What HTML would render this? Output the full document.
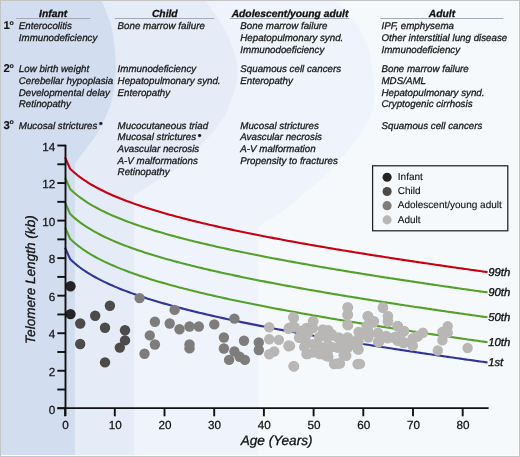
<!DOCTYPE html>
<html><head><meta charset="utf-8"><style>
html,body{margin:0;padding:0;background:#fff;}
svg{display:block;}
text{font-family:"Liberation Sans",sans-serif;text-rendering:geometricPrecision;}
svg{will-change:transform;}
</style></head><body>
<svg width="520" height="457" viewBox="0 0 520 457">
<rect x="0" y="0" width="520" height="457" fill="#f5f9fc"/>
<path d="M0,0 L333,0 C336.5,3.5 348.5,14.0 354.0,21.0 C359.5,28.0 363.1,35.0 366.0,42.0 C368.9,49.0 370.2,56.0 371.5,63.0 C372.8,70.0 373.6,77.8 374.0,84.0 C374.4,90.2 374.5,94.8 374.0,100.0 C373.5,105.2 372.2,111.0 371.0,115.0 C369.8,119.0 368.5,120.5 366.5,124.0 C364.5,127.5 361.9,131.8 359.0,136.0 C356.1,140.2 352.7,144.5 349.0,149.0 C345.3,153.5 341.2,158.3 337.0,163.0 C332.8,167.7 328.5,172.7 324.0,177.0 C319.5,181.3 314.0,185.7 310.0,189.0 C306.0,192.3 303.7,193.9 300.0,197.0 C296.3,200.1 294.9,202.5 288.0,207.5 C281.1,212.5 263.2,223.8 258.3,227.0 L258.3,457 L0,457 Z" fill="#eff4fc"/>
<path d="M0,0 L204.5,0 C206.7,2.9 213.8,11.7 217.6,17.5 C221.4,23.3 224.5,29.2 227.3,35.0 C230.1,40.8 232.6,46.7 234.3,52.5 C236.1,58.3 237.4,64.9 237.8,70.0 C238.2,75.1 237.6,78.3 236.6,83.0 C235.6,87.7 233.8,92.8 232.0,98.0 C230.2,103.2 228.1,109.2 225.6,114.0 C223.1,118.8 220.3,122.7 217.0,127.0 C213.7,131.3 210.0,135.7 206.0,140.0 C202.0,144.3 197.3,148.7 193.0,153.0 C188.7,157.3 186.0,161.4 180.0,166.0 C174.0,170.6 164.6,175.8 157.0,180.7 C149.4,185.6 138.0,192.9 134.2,195.3 L134.2,457 L0,457 Z" fill="#e5ecf8"/>
<path d="M0,0 L101.5,0 C102.4,2.2 105.1,8.7 106.7,13.0 C108.3,17.3 110.1,21.5 111.3,26.0 C112.5,30.5 113.0,35.2 113.7,40.0 C114.4,44.8 115.0,50.0 115.3,55.0 C115.6,60.0 115.8,64.8 115.7,70.0 C115.6,75.2 115.2,80.8 114.5,86.0 C113.8,91.2 112.5,97.0 111.5,101.0 C110.5,105.0 109.7,106.8 108.5,110.0 C107.3,113.2 105.6,116.8 104.1,120.0 C102.5,123.2 101.0,126.3 99.2,129.5 C97.4,132.7 95.2,136.7 93.3,139.4 C91.4,142.2 89.9,143.6 88.0,146.0 C86.1,148.4 84.2,151.0 82.0,154.0 C79.8,157.0 76.0,162.3 74.8,164.0 L74.8,457 L0,457 Z" fill="#d3ddf0"/>
<line x1="15.9" y1="18.5" x2="90.5" y2="18.5" stroke="#a3aab8" stroke-width="1"/>
<line x1="114.6" y1="18.5" x2="214.3" y2="18.5" stroke="#a3aab8" stroke-width="1"/>
<line x1="229.8" y1="18.5" x2="349.4" y2="18.5" stroke="#a3aab8" stroke-width="1"/>
<line x1="380.3" y1="18.5" x2="503.3" y2="18.5" stroke="#a3aab8" stroke-width="1"/>
<path d="M65.10,157.39 L70.07,168.66 L72.55,171.00 L75.04,173.18 L77.52,175.22 L80.01,177.12 L82.49,178.92 L84.98,180.62 L87.46,182.24 L89.95,183.78 L92.43,185.24 L94.92,186.65 L97.41,188.00 L99.89,189.30 L102.38,190.55 L104.86,191.77 L107.34,192.94 L109.83,194.07 L112.31,195.17 L114.80,196.24 L117.28,197.28 L119.77,198.29 L122.25,199.28 L124.74,200.24 L127.22,201.18 L129.71,202.10 L132.19,203.00 L134.68,203.88 L137.16,204.74 L139.65,205.58 L142.13,206.41 L144.62,207.23 L147.10,208.02 L149.59,208.81 L152.07,209.58 L154.56,210.34 L157.04,211.09 L159.53,211.82 L162.01,212.55 L164.50,213.26 L166.98,213.96 L169.47,214.66 L171.95,215.34 L174.44,216.01 L176.92,216.68 L179.41,217.34 L181.89,217.99 L184.38,218.63 L186.87,219.26 L189.35,219.89 L191.83,220.51 L194.32,221.12 L196.80,221.73 L199.29,222.33 L201.77,222.93 L204.26,223.51 L206.74,224.10 L209.23,224.67 L211.71,225.24 L214.20,225.81 L216.68,226.37 L219.17,226.93 L221.65,227.48 L224.14,228.02 L226.62,228.57 L229.11,229.10 L231.59,229.64 L234.08,230.16 L236.56,230.69 L239.05,231.21 L241.53,231.73 L244.02,232.24 L246.50,232.75 L248.99,233.25 L251.47,233.76 L253.96,234.25 L256.44,234.75 L258.93,235.24 L261.41,235.73 L263.90,236.21 L266.38,236.70 L268.87,237.18 L271.36,237.65 L273.84,238.13 L276.32,238.60 L278.81,239.06 L281.29,239.53 L283.78,239.99 L286.26,240.45 L288.75,240.91 L291.24,241.36 L293.72,241.82 L296.20,242.27 L298.69,242.71 L301.17,243.16 L303.66,243.60 L306.14,244.04 L308.63,244.48 L311.12,244.92 L313.60,245.35 L316.08,245.78 L318.57,246.22 L321.05,246.64 L323.54,247.07 L326.02,247.49 L328.51,247.92 L331.00,248.34 L333.48,248.76 L335.97,249.17 L338.45,249.59 L340.93,250.00 L343.42,250.42 L345.90,250.83 L348.39,251.23 L350.88,251.64 L353.36,252.05 L355.85,252.45 L358.33,252.85 L360.81,253.25 L363.30,253.65 L365.78,254.05 L368.27,254.45 L370.75,254.84 L373.24,255.24 L375.73,255.63 L378.21,256.02 L380.69,256.41 L383.18,256.80 L385.66,257.19 L388.15,257.57 L390.63,257.96 L393.12,258.34 L395.61,258.72 L398.09,259.10 L400.57,259.48 L403.06,259.86 L405.54,260.24 L408.03,260.61 L410.51,260.99 L413.00,261.36 L415.49,261.73 L417.97,262.11 L420.45,262.48 L422.94,262.85 L425.42,263.22 L427.91,263.58 L430.39,263.95 L432.88,264.31 L435.37,264.68 L437.85,265.04 L440.33,265.41 L442.82,265.77 L445.30,266.13 L447.79,266.49 L450.27,266.85 L452.76,267.20 L455.25,267.56 L457.73,267.92 L460.21,268.27 L462.70,268.63 L465.18,268.98 L467.67,269.33 L470.15,269.68 L472.64,270.04 L475.12,270.39 L477.61,270.74 L480.10,271.08 L482.58,271.43 L485.06,271.78 L487.55,272.13" fill="none" stroke="#c8000f" stroke-width="2.1" stroke-linejoin="round"/>
<path d="M65.10,177.68 L70.07,188.95 L72.55,191.28 L75.04,193.47 L77.52,195.51 L80.01,197.41 L82.49,199.21 L84.98,200.91 L87.46,202.53 L89.95,204.06 L92.43,205.53 L94.92,206.94 L97.41,208.29 L99.89,209.59 L102.38,210.84 L104.86,212.05 L107.34,213.23 L109.83,214.36 L112.31,215.46 L114.80,216.53 L117.28,217.57 L119.77,218.58 L122.25,219.57 L124.74,220.53 L127.22,221.47 L129.71,222.39 L132.19,223.29 L134.68,224.17 L137.16,225.03 L139.65,225.87 L142.13,226.70 L144.62,227.52 L147.10,228.31 L149.59,229.10 L152.07,229.87 L154.56,230.63 L157.04,231.38 L159.53,232.11 L162.01,232.84 L164.50,233.55 L166.98,234.25 L169.47,234.95 L171.95,235.63 L174.44,236.30 L176.92,236.97 L179.41,237.63 L181.89,238.28 L184.38,238.92 L186.87,239.55 L189.35,240.18 L191.83,240.80 L194.32,241.41 L196.80,242.02 L199.29,242.62 L201.77,243.22 L204.26,243.80 L206.74,244.39 L209.23,244.96 L211.71,245.53 L214.20,246.10 L216.68,246.66 L219.17,247.22 L221.65,247.77 L224.14,248.31 L226.62,248.86 L229.11,249.39 L231.59,249.93 L234.08,250.45 L236.56,250.98 L239.05,251.50 L241.53,252.02 L244.02,252.53 L246.50,253.04 L248.99,253.54 L251.47,254.04 L253.96,254.54 L256.44,255.04 L258.93,255.53 L261.41,256.02 L263.90,256.50 L266.38,256.99 L268.87,257.47 L271.36,257.94 L273.84,258.41 L276.32,258.89 L278.81,259.35 L281.29,259.82 L283.78,260.28 L286.26,260.74 L288.75,261.20 L291.24,261.65 L293.72,262.11 L296.20,262.56 L298.69,263.00 L301.17,263.45 L303.66,263.89 L306.14,264.33 L308.63,264.77 L311.12,265.21 L313.60,265.64 L316.08,266.07 L318.57,266.50 L321.05,266.93 L323.54,267.36 L326.02,267.78 L328.51,268.21 L331.00,268.63 L333.48,269.05 L335.97,269.46 L338.45,269.88 L340.93,270.29 L343.42,270.70 L345.90,271.12 L348.39,271.52 L350.88,271.93 L353.36,272.34 L355.85,272.74 L358.33,273.14 L360.81,273.54 L363.30,273.94 L365.78,274.34 L368.27,274.74 L370.75,275.13 L373.24,275.53 L375.73,275.92 L378.21,276.31 L380.69,276.70 L383.18,277.09 L385.66,277.48 L388.15,277.86 L390.63,278.25 L393.12,278.63 L395.61,279.01 L398.09,279.39 L400.57,279.77 L403.06,280.15 L405.54,280.53 L408.03,280.90 L410.51,281.28 L413.00,281.65 L415.49,282.02 L417.97,282.40 L420.45,282.77 L422.94,283.14 L425.42,283.50 L427.91,283.87 L430.39,284.24 L432.88,284.60 L435.37,284.97 L437.85,285.33 L440.33,285.69 L442.82,286.06 L445.30,286.42 L447.79,286.78 L450.27,287.14 L452.76,287.49 L455.25,287.85 L457.73,288.21 L460.21,288.56 L462.70,288.92 L465.18,289.27 L467.67,289.62 L470.15,289.97 L472.64,290.33 L475.12,290.68 L477.61,291.02 L480.10,291.37 L482.58,291.72 L485.06,292.07 L487.55,292.41" fill="none" stroke="#53a12a" stroke-width="2.1" stroke-linejoin="round"/>
<path d="M65.10,202.58 L70.07,213.84 L72.55,216.18 L75.04,218.37 L77.52,220.40 L80.01,222.31 L82.49,224.11 L84.98,225.81 L87.46,227.42 L89.95,228.96 L92.43,230.43 L94.92,231.84 L97.41,233.19 L99.89,234.49 L102.38,235.74 L104.86,236.95 L107.34,238.12 L109.83,239.26 L112.31,240.36 L114.80,241.43 L117.28,242.47 L119.77,243.48 L122.25,244.46 L124.74,245.43 L127.22,246.37 L129.71,247.29 L132.19,248.19 L134.68,249.06 L137.16,249.93 L139.65,250.77 L142.13,251.60 L144.62,252.41 L147.10,253.21 L149.59,254.00 L152.07,254.77 L154.56,255.53 L157.04,256.27 L159.53,257.01 L162.01,257.73 L164.50,258.45 L166.98,259.15 L169.47,259.84 L171.95,260.53 L174.44,261.20 L176.92,261.87 L179.41,262.53 L181.89,263.18 L184.38,263.82 L186.87,264.45 L189.35,265.08 L191.83,265.70 L194.32,266.31 L196.80,266.92 L199.29,267.52 L201.77,268.11 L204.26,268.70 L206.74,269.28 L209.23,269.86 L211.71,270.43 L214.20,271.00 L216.68,271.56 L219.17,272.11 L221.65,272.66 L224.14,273.21 L226.62,273.75 L229.11,274.29 L231.59,274.82 L234.08,275.35 L236.56,275.88 L239.05,276.40 L241.53,276.91 L244.02,277.43 L246.50,277.94 L248.99,278.44 L251.47,278.94 L253.96,279.44 L256.44,279.94 L258.93,280.43 L261.41,280.92 L263.90,281.40 L266.38,281.88 L268.87,282.36 L271.36,282.84 L273.84,283.31 L276.32,283.78 L278.81,284.25 L281.29,284.72 L283.78,285.18 L286.26,285.64 L288.75,286.10 L291.24,286.55 L293.72,287.00 L296.20,287.45 L298.69,287.90 L301.17,288.35 L303.66,288.79 L306.14,289.23 L308.63,289.67 L311.12,290.10 L313.60,290.54 L316.08,290.97 L318.57,291.40 L321.05,291.83 L323.54,292.26 L326.02,292.68 L328.51,293.10 L331.00,293.53 L333.48,293.94 L335.97,294.36 L338.45,294.78 L340.93,295.19 L343.42,295.60 L345.90,296.01 L348.39,296.42 L350.88,296.83 L353.36,297.23 L355.85,297.64 L358.33,298.04 L360.81,298.44 L363.30,298.84 L365.78,299.24 L368.27,299.64 L370.75,300.03 L373.24,300.42 L375.73,300.82 L378.21,301.21 L380.69,301.60 L383.18,301.99 L385.66,302.37 L388.15,302.76 L390.63,303.14 L393.12,303.53 L395.61,303.91 L398.09,304.29 L400.57,304.67 L403.06,305.05 L405.54,305.42 L408.03,305.80 L410.51,306.18 L413.00,306.55 L415.49,306.92 L417.97,307.29 L420.45,307.66 L422.94,308.03 L425.42,308.40 L427.91,308.77 L430.39,309.14 L432.88,309.50 L435.37,309.87 L437.85,310.23 L440.33,310.59 L442.82,310.95 L445.30,311.31 L447.79,311.67 L450.27,312.03 L452.76,312.39 L455.25,312.75 L457.73,313.10 L460.21,313.46 L462.70,313.81 L465.18,314.17 L467.67,314.52 L470.15,314.87 L472.64,315.22 L475.12,315.57 L477.61,315.92 L480.10,316.27 L482.58,316.62 L485.06,316.97 L487.55,317.31" fill="none" stroke="#53a12a" stroke-width="2.1" stroke-linejoin="round"/>
<path d="M65.10,227.48 L70.07,238.74 L72.55,241.08 L75.04,243.26 L77.52,245.30 L80.01,247.21 L82.49,249.01 L84.98,250.71 L87.46,252.32 L89.95,253.86 L92.43,255.33 L94.92,256.74 L97.41,258.09 L99.89,259.39 L102.38,260.64 L104.86,261.85 L107.34,263.02 L109.83,264.15 L112.31,265.26 L114.80,266.32 L117.28,267.36 L119.77,268.38 L122.25,269.36 L124.74,270.33 L127.22,271.27 L129.71,272.18 L132.19,273.08 L134.68,273.96 L137.16,274.82 L139.65,275.67 L142.13,276.50 L144.62,277.31 L147.10,278.11 L149.59,278.89 L152.07,279.67 L154.56,280.42 L157.04,281.17 L159.53,281.91 L162.01,282.63 L164.50,283.34 L166.98,284.05 L169.47,284.74 L171.95,285.42 L174.44,286.10 L176.92,286.77 L179.41,287.42 L181.89,288.07 L184.38,288.71 L186.87,289.35 L189.35,289.98 L191.83,290.60 L194.32,291.21 L196.80,291.82 L199.29,292.42 L201.77,293.01 L204.26,293.60 L206.74,294.18 L209.23,294.76 L211.71,295.33 L214.20,295.89 L216.68,296.46 L219.17,297.01 L221.65,297.56 L224.14,298.11 L226.62,298.65 L229.11,299.19 L231.59,299.72 L234.08,300.25 L236.56,300.77 L239.05,301.29 L241.53,301.81 L244.02,302.32 L246.50,302.83 L248.99,303.34 L251.47,303.84 L253.96,304.34 L256.44,304.83 L258.93,305.33 L261.41,305.81 L263.90,306.30 L266.38,306.78 L268.87,307.26 L271.36,307.74 L273.84,308.21 L276.32,308.68 L278.81,309.15 L281.29,309.61 L283.78,310.08 L286.26,310.54 L288.75,310.99 L291.24,311.45 L293.72,311.90 L296.20,312.35 L298.69,312.80 L301.17,313.24 L303.66,313.69 L306.14,314.13 L308.63,314.57 L311.12,315.00 L313.60,315.44 L316.08,315.87 L318.57,316.30 L321.05,316.73 L323.54,317.15 L326.02,317.58 L328.51,318.00 L331.00,318.42 L333.48,318.84 L335.97,319.26 L338.45,319.67 L340.93,320.09 L343.42,320.50 L345.90,320.91 L348.39,321.32 L350.88,321.73 L353.36,322.13 L355.85,322.54 L358.33,322.94 L360.81,323.34 L363.30,323.74 L365.78,324.14 L368.27,324.53 L370.75,324.93 L373.24,325.32 L375.73,325.71 L378.21,326.11 L380.69,326.50 L383.18,326.88 L385.66,327.27 L388.15,327.66 L390.63,328.04 L393.12,328.42 L395.61,328.81 L398.09,329.19 L400.57,329.57 L403.06,329.94 L405.54,330.32 L408.03,330.70 L410.51,331.07 L413.00,331.45 L415.49,331.82 L417.97,332.19 L420.45,332.56 L422.94,332.93 L425.42,333.30 L427.91,333.67 L430.39,334.03 L432.88,334.40 L435.37,334.76 L437.85,335.13 L440.33,335.49 L442.82,335.85 L445.30,336.21 L447.79,336.57 L450.27,336.93 L452.76,337.29 L455.25,337.65 L457.73,338.00 L460.21,338.36 L462.70,338.71 L465.18,339.06 L467.67,339.42 L470.15,339.77 L472.64,340.12 L475.12,340.47 L477.61,340.82 L480.10,341.17 L482.58,341.52 L485.06,341.86 L487.55,342.21" fill="none" stroke="#53a12a" stroke-width="2.1" stroke-linejoin="round"/>
<path d="M65.10,247.77 L70.07,259.03 L72.55,261.37 L75.04,263.55 L77.52,265.59 L80.01,267.50 L82.49,269.30 L84.98,271.00 L87.46,272.61 L89.95,274.15 L92.43,275.62 L94.92,277.03 L97.41,278.38 L99.89,279.68 L102.38,280.93 L104.86,282.14 L107.34,283.31 L109.83,284.44 L112.31,285.54 L114.80,286.61 L117.28,287.65 L119.77,288.67 L122.25,289.65 L124.74,290.61 L127.22,291.55 L129.71,292.47 L132.19,293.37 L134.68,294.25 L137.16,295.11 L139.65,295.96 L142.13,296.79 L144.62,297.60 L147.10,298.40 L149.59,299.18 L152.07,299.96 L154.56,300.71 L157.04,301.46 L159.53,302.20 L162.01,302.92 L164.50,303.63 L166.98,304.34 L169.47,305.03 L171.95,305.71 L174.44,306.39 L176.92,307.05 L179.41,307.71 L181.89,308.36 L184.38,309.00 L186.87,309.64 L189.35,310.27 L191.83,310.89 L194.32,311.50 L196.80,312.11 L199.29,312.71 L201.77,313.30 L204.26,313.89 L206.74,314.47 L209.23,315.05 L211.71,315.62 L214.20,316.18 L216.68,316.75 L219.17,317.30 L221.65,317.85 L224.14,318.40 L226.62,318.94 L229.11,319.48 L231.59,320.01 L234.08,320.54 L236.56,321.06 L239.05,321.58 L241.53,322.10 L244.02,322.61 L246.50,323.12 L248.99,323.63 L251.47,324.13 L253.96,324.63 L256.44,325.12 L258.93,325.61 L261.41,326.10 L263.90,326.59 L266.38,327.07 L268.87,327.55 L271.36,328.03 L273.84,328.50 L276.32,328.97 L278.81,329.44 L281.29,329.90 L283.78,330.37 L286.26,330.83 L288.75,331.28 L291.24,331.74 L293.72,332.19 L296.20,332.64 L298.69,333.09 L301.17,333.53 L303.66,333.98 L306.14,334.42 L308.63,334.86 L311.12,335.29 L313.60,335.73 L316.08,336.16 L318.57,336.59 L321.05,337.02 L323.54,337.44 L326.02,337.87 L328.51,338.29 L331.00,338.71 L333.48,339.13 L335.97,339.55 L338.45,339.96 L340.93,340.38 L343.42,340.79 L345.90,341.20 L348.39,341.61 L350.88,342.02 L353.36,342.42 L355.85,342.83 L358.33,343.23 L360.81,343.63 L363.30,344.03 L365.78,344.43 L368.27,344.82 L370.75,345.22 L373.24,345.61 L375.73,346.00 L378.21,346.39 L380.69,346.78 L383.18,347.17 L385.66,347.56 L388.15,347.95 L390.63,348.33 L393.12,348.71 L395.61,349.10 L398.09,349.48 L400.57,349.86 L403.06,350.23 L405.54,350.61 L408.03,350.99 L410.51,351.36 L413.00,351.74 L415.49,352.11 L417.97,352.48 L420.45,352.85 L422.94,353.22 L425.42,353.59 L427.91,353.96 L430.39,354.32 L432.88,354.69 L435.37,355.05 L437.85,355.42 L440.33,355.78 L442.82,356.14 L445.30,356.50 L447.79,356.86 L450.27,357.22 L452.76,357.58 L455.25,357.94 L457.73,358.29 L460.21,358.65 L462.70,359.00 L465.18,359.35 L467.67,359.71 L470.15,360.06 L472.64,360.41 L475.12,360.76 L477.61,361.11 L480.10,361.46 L482.58,361.81 L485.06,362.15 L487.55,362.50" fill="none" stroke="#30359a" stroke-width="2.1" stroke-linejoin="round"/>
<circle cx="269.2" cy="327.2" r="5.2" fill="#b9b7b5"/>
<circle cx="269.2" cy="339.3" r="5.2" fill="#b9b7b5"/>
<circle cx="278.9" cy="339.9" r="5.2" fill="#b9b7b5"/>
<circle cx="269.2" cy="354.2" r="5.2" fill="#b9b7b5"/>
<circle cx="274.2" cy="351.5" r="5.2" fill="#b9b7b5"/>
<circle cx="288.7" cy="345.5" r="5.2" fill="#b9b7b5"/>
<circle cx="293.8" cy="317.9" r="5.2" fill="#b9b7b5"/>
<circle cx="288.7" cy="328.7" r="5.2" fill="#b9b7b5"/>
<circle cx="294.7" cy="327.2" r="5.2" fill="#b9b7b5"/>
<circle cx="293.8" cy="366.4" r="5.2" fill="#b9b7b5"/>
<circle cx="293.3" cy="317.2" r="5.2" fill="#b9b7b5"/>
<circle cx="313" cy="321.3" r="5.2" fill="#b9b7b5"/>
<circle cx="347.4" cy="307.4" r="5.2" fill="#b9b7b5"/>
<circle cx="347.4" cy="314.8" r="5.2" fill="#b9b7b5"/>
<circle cx="347.4" cy="324.6" r="5.2" fill="#b9b7b5"/>
<circle cx="293.3" cy="326.2" r="5.2" fill="#b9b7b5"/>
<circle cx="306.4" cy="327.9" r="5.2" fill="#b9b7b5"/>
<circle cx="322.8" cy="329.5" r="5.2" fill="#b9b7b5"/>
<circle cx="299" cy="337.7" r="5.2" fill="#b9b7b5"/>
<circle cx="290" cy="345.9" r="5.2" fill="#b9b7b5"/>
<circle cx="305.6" cy="340.2" r="5.2" fill="#b9b7b5"/>
<circle cx="331" cy="335.2" r="5.2" fill="#b9b7b5"/>
<circle cx="339.2" cy="337.7" r="5.2" fill="#b9b7b5"/>
<circle cx="306.4" cy="354.1" r="5.2" fill="#b9b7b5"/>
<circle cx="319.5" cy="354.1" r="5.2" fill="#b9b7b5"/>
<circle cx="324.4" cy="347.5" r="5.2" fill="#b9b7b5"/>
<circle cx="337.5" cy="347.5" r="5.2" fill="#b9b7b5"/>
<circle cx="313" cy="344.3" r="5.2" fill="#b9b7b5"/>
<circle cx="337.5" cy="363.9" r="5.2" fill="#b9b7b5"/>
<circle cx="294.1" cy="366.4" r="5.2" fill="#b9b7b5"/>
<circle cx="344" cy="354.1" r="5.2" fill="#b9b7b5"/>
<circle cx="326" cy="355.7" r="5.2" fill="#b9b7b5"/>
<circle cx="367.9" cy="316.1" r="5.2" fill="#b9b7b5"/>
<circle cx="373.5" cy="322.6" r="5.2" fill="#b9b7b5"/>
<circle cx="382.8" cy="307.7" r="5.2" fill="#b9b7b5"/>
<circle cx="388" cy="316.1" r="5.2" fill="#b9b7b5"/>
<circle cx="388" cy="322" r="5.2" fill="#b9b7b5"/>
<circle cx="397.7" cy="326.3" r="5.2" fill="#b9b7b5"/>
<circle cx="404.2" cy="331" r="5.2" fill="#b9b7b5"/>
<circle cx="358.6" cy="331.9" r="5.2" fill="#b9b7b5"/>
<circle cx="367.9" cy="330" r="5.2" fill="#b9b7b5"/>
<circle cx="347.4" cy="337.5" r="5.2" fill="#b9b7b5"/>
<circle cx="358.6" cy="342.1" r="5.2" fill="#b9b7b5"/>
<circle cx="358.6" cy="349.6" r="5.2" fill="#b9b7b5"/>
<circle cx="379.1" cy="334.7" r="5.2" fill="#b9b7b5"/>
<circle cx="379.1" cy="342.1" r="5.2" fill="#b9b7b5"/>
<circle cx="387.5" cy="338.4" r="5.2" fill="#b9b7b5"/>
<circle cx="395.9" cy="336.6" r="5.2" fill="#b9b7b5"/>
<circle cx="403.3" cy="342.1" r="5.2" fill="#b9b7b5"/>
<circle cx="357.7" cy="364.1" r="5.2" fill="#b9b7b5"/>
<circle cx="343.7" cy="355.2" r="5.2" fill="#b9b7b5"/>
<circle cx="340" cy="363.6" r="5.2" fill="#b9b7b5"/>
<circle cx="397.8" cy="326.3" r="5.2" fill="#b9b7b5"/>
<circle cx="403.4" cy="331.9" r="5.2" fill="#b9b7b5"/>
<circle cx="396.9" cy="339.3" r="5.2" fill="#b9b7b5"/>
<circle cx="403.4" cy="343" r="5.2" fill="#b9b7b5"/>
<circle cx="412.7" cy="338.4" r="5.2" fill="#b9b7b5"/>
<circle cx="412.7" cy="345.8" r="5.2" fill="#b9b7b5"/>
<circle cx="422.9" cy="332.8" r="5.2" fill="#b9b7b5"/>
<circle cx="417.3" cy="336.5" r="5.2" fill="#b9b7b5"/>
<circle cx="447.7" cy="326.3" r="5.2" fill="#b9b7b5"/>
<circle cx="447.7" cy="332.8" r="5.2" fill="#b9b7b5"/>
<circle cx="442.4" cy="331.9" r="5.2" fill="#b9b7b5"/>
<circle cx="442.4" cy="340.2" r="5.2" fill="#b9b7b5"/>
<circle cx="437.8" cy="350.5" r="5.2" fill="#b9b7b5"/>
<circle cx="467.6" cy="348" r="5.2" fill="#b9b7b5"/>
<circle cx="293.5" cy="317.8" r="5.2" fill="#b9b7b5"/>
<circle cx="289.3" cy="327.8" r="5.2" fill="#b9b7b5"/>
<circle cx="294.2" cy="327" r="5.2" fill="#b9b7b5"/>
<circle cx="313.4" cy="321.4" r="5.2" fill="#b9b7b5"/>
<circle cx="288.6" cy="346.2" r="5.2" fill="#b9b7b5"/>
<circle cx="293.5" cy="366.1" r="5.2" fill="#b9b7b5"/>
<circle cx="300.6" cy="337.7" r="5.2" fill="#b9b7b5"/>
<circle cx="306.3" cy="331.3" r="5.2" fill="#b9b7b5"/>
<circle cx="312" cy="327" r="5.2" fill="#b9b7b5"/>
<circle cx="304.2" cy="346.9" r="5.2" fill="#b9b7b5"/>
<circle cx="307.7" cy="354" r="5.2" fill="#b9b7b5"/>
<circle cx="319.1" cy="337" r="5.2" fill="#b9b7b5"/>
<circle cx="323.4" cy="331.3" r="5.2" fill="#b9b7b5"/>
<circle cx="327.6" cy="338.4" r="5.2" fill="#b9b7b5"/>
<circle cx="331.9" cy="334.1" r="5.2" fill="#b9b7b5"/>
<circle cx="320.5" cy="354" r="5.2" fill="#b9b7b5"/>
<circle cx="327.6" cy="354" r="5.2" fill="#b9b7b5"/>
<circle cx="313.4" cy="352.6" r="5.2" fill="#b9b7b5"/>
<circle cx="317.7" cy="344.1" r="5.2" fill="#b9b7b5"/>
<circle cx="331.9" cy="346.9" r="5.2" fill="#b9b7b5"/>
<circle cx="334" cy="364" r="5.2" fill="#b9b7b5"/>
<circle cx="348" cy="307.4" r="5.2" fill="#b9b7b5"/>
<circle cx="348" cy="314.8" r="5.2" fill="#b9b7b5"/>
<circle cx="348" cy="325.4" r="5.2" fill="#b9b7b5"/>
<circle cx="367.6" cy="316.4" r="5.2" fill="#b9b7b5"/>
<circle cx="368.4" cy="324.6" r="5.2" fill="#b9b7b5"/>
<circle cx="369.3" cy="334.4" r="5.2" fill="#b9b7b5"/>
<circle cx="361" cy="332.8" r="5.2" fill="#b9b7b5"/>
<circle cx="357.8" cy="339.3" r="5.2" fill="#b9b7b5"/>
<circle cx="357.8" cy="349.2" r="5.2" fill="#b9b7b5"/>
<circle cx="357.8" cy="364" r="5.2" fill="#b9b7b5"/>
<circle cx="348" cy="337.7" r="5.2" fill="#b9b7b5"/>
<circle cx="348" cy="347.5" r="5.2" fill="#b9b7b5"/>
<circle cx="338.1" cy="337.7" r="5.2" fill="#b9b7b5"/>
<circle cx="338.1" cy="347.5" r="5.2" fill="#b9b7b5"/>
<circle cx="338.1" cy="363.1" r="5.2" fill="#b9b7b5"/>
<circle cx="346.3" cy="355.7" r="5.2" fill="#b9b7b5"/>
<circle cx="328.3" cy="330.3" r="5.2" fill="#b9b7b5"/>
<circle cx="328.3" cy="349.2" r="5.2" fill="#b9b7b5"/>
<circle cx="328.3" cy="356.6" r="5.2" fill="#b9b7b5"/>
<circle cx="383" cy="307.3" r="5.2" fill="#b9b7b5"/>
<circle cx="387.9" cy="316.3" r="5.2" fill="#b9b7b5"/>
<circle cx="387.9" cy="321.2" r="5.2" fill="#b9b7b5"/>
<circle cx="368.2" cy="316.3" r="5.2" fill="#b9b7b5"/>
<circle cx="374" cy="321.2" r="5.2" fill="#b9b7b5"/>
<circle cx="366.6" cy="326.1" r="5.2" fill="#b9b7b5"/>
<circle cx="363.3" cy="334.3" r="5.2" fill="#b9b7b5"/>
<circle cx="368.2" cy="337.6" r="5.2" fill="#b9b7b5"/>
<circle cx="378" cy="332.7" r="5.2" fill="#b9b7b5"/>
<circle cx="378" cy="341.7" r="5.2" fill="#b9b7b5"/>
<circle cx="386.2" cy="336" r="5.2" fill="#b9b7b5"/>
<circle cx="397.7" cy="326.1" r="5.2" fill="#b9b7b5"/>
<circle cx="403.4" cy="331.1" r="5.2" fill="#b9b7b5"/>
<circle cx="397.7" cy="340.9" r="5.2" fill="#b9b7b5"/>
<circle cx="403.4" cy="342.5" r="5.2" fill="#b9b7b5"/>
<circle cx="392.8" cy="337.6" r="5.2" fill="#b9b7b5"/>
<circle cx="412.5" cy="339.3" r="5.2" fill="#b9b7b5"/>
<circle cx="412.5" cy="345.8" r="5.2" fill="#b9b7b5"/>
<circle cx="418.2" cy="336" r="5.2" fill="#b9b7b5"/>
<circle cx="360" cy="363.9" r="5.2" fill="#b9b7b5"/>
<circle cx="301" cy="331" r="5.2" fill="#b9b7b5"/>
<circle cx="308" cy="333" r="5.2" fill="#b9b7b5"/>
<circle cx="313" cy="328" r="5.2" fill="#b9b7b5"/>
<circle cx="345" cy="342.5" r="5.2" fill="#b9b7b5"/>
<circle cx="353" cy="343.5" r="5.2" fill="#b9b7b5"/>
<circle cx="139.6" cy="298.1" r="5.2" fill="#7f7d7b"/>
<circle cx="174.6" cy="309.9" r="5.2" fill="#7f7d7b"/>
<circle cx="154.9" cy="321.8" r="5.2" fill="#7f7d7b"/>
<circle cx="169.7" cy="323.5" r="5.2" fill="#7f7d7b"/>
<circle cx="179.5" cy="329.3" r="5.2" fill="#7f7d7b"/>
<circle cx="189.5" cy="326.5" r="5.2" fill="#7f7d7b"/>
<circle cx="198.8" cy="326.5" r="5.2" fill="#7f7d7b"/>
<circle cx="149.8" cy="335.4" r="5.2" fill="#7f7d7b"/>
<circle cx="154.9" cy="344.5" r="5.2" fill="#7f7d7b"/>
<circle cx="144.5" cy="353.8" r="5.2" fill="#7f7d7b"/>
<circle cx="189.5" cy="344.5" r="5.2" fill="#7f7d7b"/>
<circle cx="189.5" cy="348.4" r="5.2" fill="#7f7d7b"/>
<circle cx="214.3" cy="324.4" r="5.2" fill="#7f7d7b"/>
<circle cx="234.4" cy="318.6" r="5.2" fill="#7f7d7b"/>
<circle cx="223.9" cy="337.5" r="5.2" fill="#7f7d7b"/>
<circle cx="244" cy="340.7" r="5.2" fill="#7f7d7b"/>
<circle cx="223.9" cy="348.5" r="5.2" fill="#7f7d7b"/>
<circle cx="234.4" cy="351.5" r="5.2" fill="#7f7d7b"/>
<circle cx="239.6" cy="356.8" r="5.2" fill="#7f7d7b"/>
<circle cx="244.9" cy="359.9" r="5.2" fill="#7f7d7b"/>
<circle cx="229.1" cy="359.9" r="5.2" fill="#7f7d7b"/>
<circle cx="258.8" cy="342.5" r="5.2" fill="#7f7d7b"/>
<circle cx="258.8" cy="350" r="5.2" fill="#7f7d7b"/>
<circle cx="109.9" cy="305.7" r="5.2" fill="#4d4b49"/>
<circle cx="95.2" cy="315.8" r="5.2" fill="#4d4b49"/>
<circle cx="80.2" cy="323.5" r="5.2" fill="#4d4b49"/>
<circle cx="105" cy="327.8" r="5.2" fill="#4d4b49"/>
<circle cx="125" cy="330.2" r="5.2" fill="#4d4b49"/>
<circle cx="125" cy="340.4" r="5.2" fill="#4d4b49"/>
<circle cx="119.8" cy="347.6" r="5.2" fill="#4d4b49"/>
<circle cx="80.2" cy="344.0" r="5.2" fill="#4d4b49"/>
<circle cx="105" cy="362.4" r="5.2" fill="#4d4b49"/>
<circle cx="70.5" cy="286.2" r="5.2" fill="#242424"/>
<circle cx="70.5" cy="314.1" r="5.2" fill="#242424"/>
<line x1="65.5" y1="144.72000000000003" x2="65.5" y2="416.1" stroke="#111" stroke-width="1.9"/>
<line x1="57.5" y1="408.1" x2="488.6" y2="408.1" stroke="#111" stroke-width="1.9"/>
<line x1="57.3" y1="408.30" x2="65.5" y2="408.30" stroke="#111" stroke-width="1.9"/>
<line x1="57.3" y1="389.53" x2="65.5" y2="389.53" stroke="#111" stroke-width="1.9"/>
<line x1="57.3" y1="370.76" x2="65.5" y2="370.76" stroke="#111" stroke-width="1.9"/>
<line x1="57.3" y1="351.99" x2="65.5" y2="351.99" stroke="#111" stroke-width="1.9"/>
<line x1="57.3" y1="333.22" x2="65.5" y2="333.22" stroke="#111" stroke-width="1.9"/>
<line x1="57.3" y1="314.45" x2="65.5" y2="314.45" stroke="#111" stroke-width="1.9"/>
<line x1="57.3" y1="295.68" x2="65.5" y2="295.68" stroke="#111" stroke-width="1.9"/>
<line x1="57.3" y1="276.91" x2="65.5" y2="276.91" stroke="#111" stroke-width="1.9"/>
<line x1="57.3" y1="258.14" x2="65.5" y2="258.14" stroke="#111" stroke-width="1.9"/>
<line x1="57.3" y1="239.37" x2="65.5" y2="239.37" stroke="#111" stroke-width="1.9"/>
<line x1="57.3" y1="220.60" x2="65.5" y2="220.60" stroke="#111" stroke-width="1.9"/>
<line x1="57.3" y1="201.83" x2="65.5" y2="201.83" stroke="#111" stroke-width="1.9"/>
<line x1="57.3" y1="183.06" x2="65.5" y2="183.06" stroke="#111" stroke-width="1.9"/>
<line x1="57.3" y1="164.29" x2="65.5" y2="164.29" stroke="#111" stroke-width="1.9"/>
<line x1="57.3" y1="145.52" x2="65.5" y2="145.52" stroke="#111" stroke-width="1.9"/>
<line x1="65.10" y1="408.1" x2="65.10" y2="416.3" stroke="#111" stroke-width="1.9"/>
<line x1="114.80" y1="408.1" x2="114.80" y2="416.3" stroke="#111" stroke-width="1.9"/>
<line x1="164.50" y1="408.1" x2="164.50" y2="416.3" stroke="#111" stroke-width="1.9"/>
<line x1="214.20" y1="408.1" x2="214.20" y2="416.3" stroke="#111" stroke-width="1.9"/>
<line x1="263.90" y1="408.1" x2="263.90" y2="416.3" stroke="#111" stroke-width="1.9"/>
<line x1="313.60" y1="408.1" x2="313.60" y2="416.3" stroke="#111" stroke-width="1.9"/>
<line x1="363.30" y1="408.1" x2="363.30" y2="416.3" stroke="#111" stroke-width="1.9"/>
<line x1="413.00" y1="408.1" x2="413.00" y2="416.3" stroke="#111" stroke-width="1.9"/>
<line x1="462.70" y1="408.1" x2="462.70" y2="416.3" stroke="#111" stroke-width="1.9"/>
<rect x="372.6" y="165.8" width="135.2" height="65" fill="none" stroke="#222" stroke-width="1.25"/>
<circle cx="387.1" cy="177.20" r="4.55" fill="#242424"/>
<circle cx="387.1" cy="191.43" r="4.55" fill="#4d4b49"/>
<circle cx="387.1" cy="205.66" r="4.55" fill="#7f7d7b"/>
<circle cx="387.1" cy="219.89" r="4.55" fill="#b9b7b5"/>
<text x="53.1" y="16.9" font-size="10.3" font-weight="bold" font-style="italic" text-anchor="middle" fill="#111" stroke="#111" stroke-width="0.3" >Infant</text>
<text x="164.8" y="16.9" font-size="10.3" font-weight="bold" font-style="italic" text-anchor="middle" fill="#111" stroke="#111" stroke-width="0.3" >Child</text>
<text x="290.0" y="16.9" font-size="10.3" font-weight="bold" font-style="italic" text-anchor="middle" fill="#111" stroke="#111" stroke-width="0.3" >Adolescent/young adult</text>
<text x="442.0" y="16.9" font-size="10.3" font-weight="bold" font-style="italic" text-anchor="middle" fill="#111" stroke="#111" stroke-width="0.3" >Adult</text>
<text x="3.4" y="29.2" font-size="11.3" font-weight="bold" font-style="normal" text-anchor="start" fill="#111" stroke="#111" stroke-width="0.1" >1</text>
<text x="9.4" y="25.0" font-size="7" font-weight="bold" font-style="normal" text-anchor="start" fill="#111" stroke="#111" stroke-width="0.1" >o</text>
<text x="3.4" y="71.8" font-size="11.3" font-weight="bold" font-style="normal" text-anchor="start" fill="#111" stroke="#111" stroke-width="0.1" >2</text>
<text x="9.4" y="67.6" font-size="7" font-weight="bold" font-style="normal" text-anchor="start" fill="#111" stroke="#111" stroke-width="0.1" >o</text>
<text x="3.4" y="128.6" font-size="11.3" font-weight="bold" font-style="normal" text-anchor="start" fill="#111" stroke="#111" stroke-width="0.1" >3</text>
<text x="9.4" y="124.39999999999999" font-size="7" font-weight="bold" font-style="normal" text-anchor="start" fill="#111" stroke="#111" stroke-width="0.1" >o</text>
<text x="18.8" y="29.2" font-size="9.75" font-weight="normal" font-style="italic" text-anchor="start" fill="#1a1a1a" stroke="#1a1a1a" stroke-width="0.3" >Enterocolitis</text>
<text x="18.8" y="40.85" font-size="9.75" font-weight="normal" font-style="italic" text-anchor="start" fill="#1a1a1a" stroke="#1a1a1a" stroke-width="0.3" >Immunodeficiency</text>
<text x="18.8" y="72.3" font-size="9.75" font-weight="normal" font-style="italic" text-anchor="start" fill="#1a1a1a" stroke="#1a1a1a" stroke-width="0.3" >Low birth weight</text>
<text x="18.8" y="83.95" font-size="9.75" font-weight="normal" font-style="italic" text-anchor="start" fill="#1a1a1a" stroke="#1a1a1a" stroke-width="0.3" >Cerebellar hypoplasia</text>
<text x="18.8" y="95.6" font-size="9.75" font-weight="normal" font-style="italic" text-anchor="start" fill="#1a1a1a" stroke="#1a1a1a" stroke-width="0.3" >Developmental delay</text>
<text x="18.8" y="107.25" font-size="9.75" font-weight="normal" font-style="italic" text-anchor="start" fill="#1a1a1a" stroke="#1a1a1a" stroke-width="0.3" >Retinopathy</text>
<text x="18.8" y="128.6" font-size="9.75" font-weight="normal" font-style="italic" text-anchor="start" fill="#1a1a1a" stroke="#1a1a1a" stroke-width="0.3" >Mucosal strictures<tspan font-style="normal" font-weight="bold" font-size="10.5" dx="1.6" dy="-1.5">•</tspan></text>
<text x="117.6" y="29.2" font-size="9.75" font-weight="normal" font-style="italic" text-anchor="start" fill="#1a1a1a" stroke="#1a1a1a" stroke-width="0.3" >Bone marrow failure</text>
<text x="117.6" y="72.3" font-size="9.75" font-weight="normal" font-style="italic" text-anchor="start" fill="#1a1a1a" stroke="#1a1a1a" stroke-width="0.3" >Immunodeficiency</text>
<text x="117.6" y="83.95" font-size="9.75" font-weight="normal" font-style="italic" text-anchor="start" fill="#1a1a1a" stroke="#1a1a1a" stroke-width="0.3" >Hepatopulmonary synd.</text>
<text x="117.6" y="95.6" font-size="9.75" font-weight="normal" font-style="italic" text-anchor="start" fill="#1a1a1a" stroke="#1a1a1a" stroke-width="0.3" >Enteropathy</text>
<text x="117.6" y="128.6" font-size="9.75" font-weight="normal" font-style="italic" text-anchor="start" fill="#1a1a1a" stroke="#1a1a1a" stroke-width="0.3" >Mucocutaneous triad</text>
<text x="117.6" y="140.25" font-size="9.75" font-weight="normal" font-style="italic" text-anchor="start" fill="#1a1a1a" stroke="#1a1a1a" stroke-width="0.3" >Mucosal strictures<tspan font-style="normal" font-weight="bold" font-size="10.5" dx="1.6" dy="-1.5">•</tspan></text>
<text x="117.6" y="151.9" font-size="9.75" font-weight="normal" font-style="italic" text-anchor="start" fill="#1a1a1a" stroke="#1a1a1a" stroke-width="0.3" >Avascular necrosis</text>
<text x="117.6" y="163.55" font-size="9.75" font-weight="normal" font-style="italic" text-anchor="start" fill="#1a1a1a" stroke="#1a1a1a" stroke-width="0.3" >A-V malformations</text>
<text x="117.6" y="175.2" font-size="9.75" font-weight="normal" font-style="italic" text-anchor="start" fill="#1a1a1a" stroke="#1a1a1a" stroke-width="0.3" >Retinopathy</text>
<text x="240.3" y="29.2" font-size="9.75" font-weight="normal" font-style="italic" text-anchor="start" fill="#1a1a1a" stroke="#1a1a1a" stroke-width="0.3" >Bone marrow failure</text>
<text x="240.3" y="40.85" font-size="9.75" font-weight="normal" font-style="italic" text-anchor="start" fill="#1a1a1a" stroke="#1a1a1a" stroke-width="0.3" >Hepatopulmonary synd.</text>
<text x="240.3" y="52.5" font-size="9.75" font-weight="normal" font-style="italic" text-anchor="start" fill="#1a1a1a" stroke="#1a1a1a" stroke-width="0.3" >Immunodoeficiency</text>
<text x="240.3" y="72.3" font-size="9.75" font-weight="normal" font-style="italic" text-anchor="start" fill="#1a1a1a" stroke="#1a1a1a" stroke-width="0.3" >Squamous cell cancers</text>
<text x="240.3" y="83.95" font-size="9.75" font-weight="normal" font-style="italic" text-anchor="start" fill="#1a1a1a" stroke="#1a1a1a" stroke-width="0.3" >Enteropathy</text>
<text x="240.3" y="128.6" font-size="9.75" font-weight="normal" font-style="italic" text-anchor="start" fill="#1a1a1a" stroke="#1a1a1a" stroke-width="0.3" >Mucosal strictures</text>
<text x="240.3" y="140.25" font-size="9.75" font-weight="normal" font-style="italic" text-anchor="start" fill="#1a1a1a" stroke="#1a1a1a" stroke-width="0.3" >Avascular necrosis</text>
<text x="240.3" y="151.9" font-size="9.75" font-weight="normal" font-style="italic" text-anchor="start" fill="#1a1a1a" stroke="#1a1a1a" stroke-width="0.3" >A-V malformation</text>
<text x="240.3" y="163.55" font-size="9.75" font-weight="normal" font-style="italic" text-anchor="start" fill="#1a1a1a" stroke="#1a1a1a" stroke-width="0.3" >Propensity to fractures</text>
<text x="381.5" y="29.2" font-size="9.75" font-weight="normal" font-style="italic" text-anchor="start" fill="#1a1a1a" stroke="#1a1a1a" stroke-width="0.3" >IPF, emphysema</text>
<text x="381.5" y="40.85" font-size="9.75" font-weight="normal" font-style="italic" text-anchor="start" fill="#1a1a1a" stroke="#1a1a1a" stroke-width="0.3" >Other interstitial lung disease</text>
<text x="381.5" y="52.5" font-size="9.75" font-weight="normal" font-style="italic" text-anchor="start" fill="#1a1a1a" stroke="#1a1a1a" stroke-width="0.3" >Immunodeficiency</text>
<text x="381.5" y="72.3" font-size="9.75" font-weight="normal" font-style="italic" text-anchor="start" fill="#1a1a1a" stroke="#1a1a1a" stroke-width="0.3" >Bone marrow failure</text>
<text x="381.5" y="83.95" font-size="9.75" font-weight="normal" font-style="italic" text-anchor="start" fill="#1a1a1a" stroke="#1a1a1a" stroke-width="0.3" >MDS/AML</text>
<text x="381.5" y="95.6" font-size="9.75" font-weight="normal" font-style="italic" text-anchor="start" fill="#1a1a1a" stroke="#1a1a1a" stroke-width="0.3" >Hepatopulmonary synd.</text>
<text x="381.5" y="107.25" font-size="9.75" font-weight="normal" font-style="italic" text-anchor="start" fill="#1a1a1a" stroke="#1a1a1a" stroke-width="0.3" >Cryptogenic cirrhosis</text>
<text x="381.5" y="128.6" font-size="9.75" font-weight="normal" font-style="italic" text-anchor="start" fill="#1a1a1a" stroke="#1a1a1a" stroke-width="0.3" >Squamous cell cancers</text>
<text x="55.2" y="413.5" font-size="11.7" font-weight="normal" font-style="normal" text-anchor="end" fill="#111" stroke="#111" stroke-width="0.25" >0</text>
<text x="55.2" y="375.96" font-size="11.7" font-weight="normal" font-style="normal" text-anchor="end" fill="#111" stroke="#111" stroke-width="0.25" >2</text>
<text x="55.2" y="338.42" font-size="11.7" font-weight="normal" font-style="normal" text-anchor="end" fill="#111" stroke="#111" stroke-width="0.25" >4</text>
<text x="55.2" y="300.88" font-size="11.7" font-weight="normal" font-style="normal" text-anchor="end" fill="#111" stroke="#111" stroke-width="0.25" >6</text>
<text x="55.2" y="263.34" font-size="11.7" font-weight="normal" font-style="normal" text-anchor="end" fill="#111" stroke="#111" stroke-width="0.25" >8</text>
<text x="55.2" y="225.8" font-size="11.7" font-weight="normal" font-style="normal" text-anchor="end" fill="#111" stroke="#111" stroke-width="0.25" >10</text>
<text x="55.2" y="188.26" font-size="11.7" font-weight="normal" font-style="normal" text-anchor="end" fill="#111" stroke="#111" stroke-width="0.25" >12</text>
<text x="55.2" y="150.72" font-size="11.7" font-weight="normal" font-style="normal" text-anchor="end" fill="#111" stroke="#111" stroke-width="0.25" >14</text>
<text x="65.5" y="429.4" font-size="11.7" font-weight="normal" font-style="normal" text-anchor="middle" fill="#111" stroke="#111" stroke-width="0.25" >0</text>
<text x="115.2" y="429.4" font-size="11.7" font-weight="normal" font-style="normal" text-anchor="middle" fill="#111" stroke="#111" stroke-width="0.25" >10</text>
<text x="164.9" y="429.4" font-size="11.7" font-weight="normal" font-style="normal" text-anchor="middle" fill="#111" stroke="#111" stroke-width="0.25" >20</text>
<text x="214.6" y="429.4" font-size="11.7" font-weight="normal" font-style="normal" text-anchor="middle" fill="#111" stroke="#111" stroke-width="0.25" >30</text>
<text x="264.3" y="429.4" font-size="11.7" font-weight="normal" font-style="normal" text-anchor="middle" fill="#111" stroke="#111" stroke-width="0.25" >40</text>
<text x="314.0" y="429.4" font-size="11.7" font-weight="normal" font-style="normal" text-anchor="middle" fill="#111" stroke="#111" stroke-width="0.25" >50</text>
<text x="363.7" y="429.4" font-size="11.7" font-weight="normal" font-style="normal" text-anchor="middle" fill="#111" stroke="#111" stroke-width="0.25" >60</text>
<text x="413.4" y="429.4" font-size="11.7" font-weight="normal" font-style="normal" text-anchor="middle" fill="#111" stroke="#111" stroke-width="0.25" >70</text>
<text x="463.1" y="429.4" font-size="11.7" font-weight="normal" font-style="normal" text-anchor="middle" fill="#111" stroke="#111" stroke-width="0.25" >80</text>
<text x="276.6" y="445.2" font-size="13.6" font-weight="normal" font-style="italic" text-anchor="middle" fill="#111" stroke="#111" stroke-width="0.3" >Age (Years)</text>
<text x="0" y="0" font-size="13.6" font-style="italic" text-anchor="middle" fill="#111" stroke="#111" stroke-width="0.3" transform="translate(34.6,279.6) rotate(-90)">Telomere Length (kb)</text>
<text x="488.2" y="275.63" font-size="11.3" font-weight="normal" font-style="italic" text-anchor="start" fill="#111" stroke="#111" stroke-width="0.35" >99th</text>
<text x="488.2" y="295.91" font-size="11.3" font-weight="normal" font-style="italic" text-anchor="start" fill="#111" stroke="#111" stroke-width="0.35" >90th</text>
<text x="488.2" y="320.81" font-size="11.3" font-weight="normal" font-style="italic" text-anchor="start" fill="#111" stroke="#111" stroke-width="0.35" >50th</text>
<text x="488.2" y="345.71" font-size="11.3" font-weight="normal" font-style="italic" text-anchor="start" fill="#111" stroke="#111" stroke-width="0.35" >10th</text>
<text x="488.2" y="366.0" font-size="11.3" font-weight="normal" font-style="italic" text-anchor="start" fill="#111" stroke="#111" stroke-width="0.35" >1st</text>
<text x="397.8" y="179.9" font-size="10" font-weight="normal" font-style="normal" text-anchor="start" fill="#111" stroke="#111" stroke-width="0.12" >Infant</text>
<text x="397.8" y="194.13" font-size="10" font-weight="normal" font-style="normal" text-anchor="start" fill="#111" stroke="#111" stroke-width="0.12" >Child</text>
<text x="397.8" y="208.36" font-size="10" font-weight="normal" font-style="normal" text-anchor="start" fill="#111" stroke="#111" stroke-width="0.12" >Adolescent/young adult</text>
<text x="397.8" y="222.59" font-size="10" font-weight="normal" font-style="normal" text-anchor="start" fill="#111" stroke="#111" stroke-width="0.12" >Adult</text>
<line x1="518.5" y1="1" x2="518.5" y2="456" stroke="#fbfcfe" stroke-width="1"/><line x1="1" y1="455.5" x2="519" y2="455.5" stroke="#fbfcfe" stroke-width="1"/><rect x="0.5" y="0.5" width="519" height="456" fill="none" stroke="#c4c4c4" stroke-width="1"/>
</svg>
</body></html>
